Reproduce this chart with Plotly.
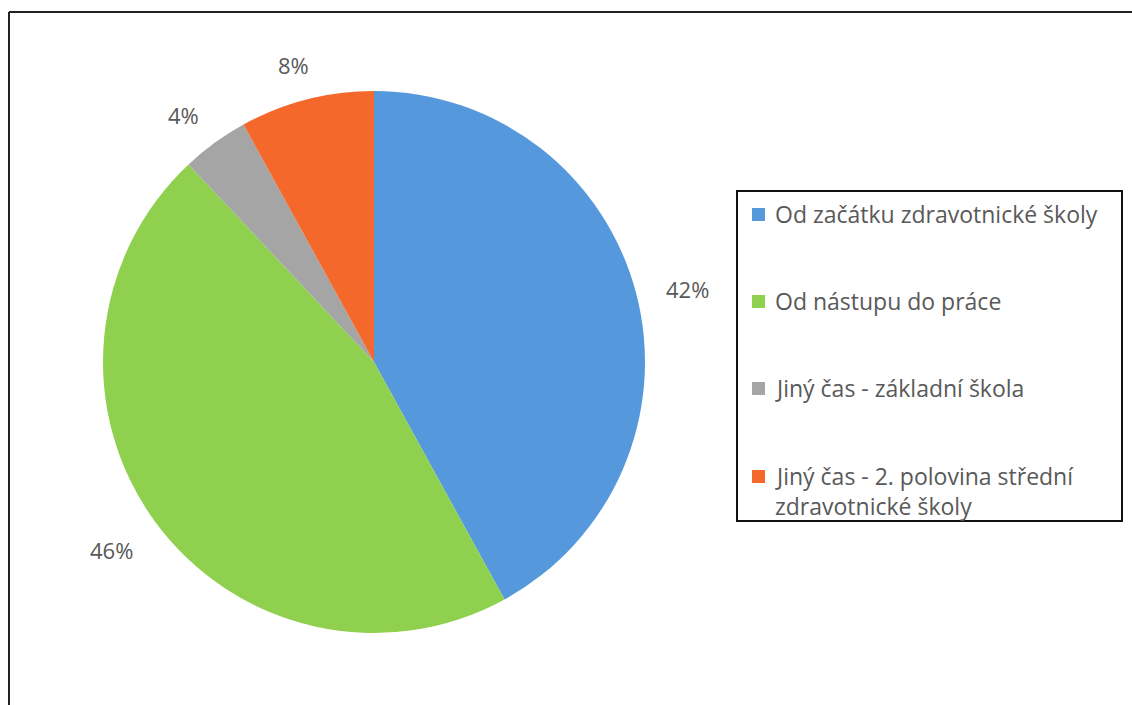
import math
import plotly.graph_objects as go

# Survey answers and their shares (%)
labels = [
    "Od začátku zdravotnické školy",
    "Od nástupu do práce",
    "Jiný čas - základní škola",
    "Jiný čas - 2. polovina střední zdravotnické školy",
]
legend_lines = [
    ["Od začátku zdravotnické školy"],
    ["Od nástupu do práce"],
    ["Jiný čas - základní škola"],
    ["Jiný čas - 2. polovina střední", "zdravotnické školy"],
]
values = [42, 46, 4, 8]
colors = ["#5599dc", "#8fd14f", "#a5a5a5", "#f4692b"]

W, H = 1132, 705
FONT = "Open Sans"
TEXT_COLOR = "#595959"

# pie geometry in pixels
cx, cy, r = 374, 362, 271
label_r = 312

fig = go.Figure(
    go.Pie(
        labels=labels,
        values=values,
        marker=dict(colors=colors, line=dict(width=0)),
        sort=False,
        direction="clockwise",
        rotation=0,
        textinfo="none",
        hoverinfo="label+percent",
        showlegend=False,
        domain=dict(x=[(cx - r) / W, (cx + r) / W], y=[1 - (cy + r) / H, 1 - (cy - r) / H]),
    )
)

annotations = []
shapes = []

# percentage labels outside the slices, at each slice's mid-angle
total = sum(values)
cum = 0
for v in values:
    mid = (cum + v / 2) / total * 2 * math.pi
    cum += v
    px = cx + (label_r + 12) * math.sin(mid)
    py = cy - label_r * math.cos(mid) + 5
    annotations.append(
        dict(
            x=px / W, y=1 - py / H, xref="paper", yref="paper",
            text=f"{round(v / total * 100)}%", showarrow=False,
            xanchor="center", yanchor="middle",
            font=dict(family=FONT, size=22, color=TEXT_COLOR),
        )
    )

# legend box
lx0, ly0, lx1, ly1 = 737, 191, 1122, 521
shapes.append(dict(type="rect", xref="paper", yref="paper",
                   x0=lx0 / W, x1=lx1 / W, y0=1 - ly1 / H, y1=1 - ly0 / H,
                   line=dict(color="#111111", width=2), fillcolor="rgba(0,0,0,0)"))

item_y = [214, 301, 388, 476]
line_gap = 30
for lines, col, yy in zip(legend_lines, colors, item_y):
    shapes.append(dict(type="rect", xref="paper", yref="paper",
                       x0=752 / W, x1=765 / W, y0=1 - (yy + 7) / H, y1=1 - (yy - 6) / H,
                       line=dict(width=0), fillcolor=col))
    for k, txt in enumerate(lines):
        annotations.append(
            dict(
                x=773 / W, y=1 - (yy + k * line_gap) / H, xref="paper", yref="paper",
                text=txt, showarrow=False, xanchor="left", yanchor="middle",
                font=dict(family=FONT, size=23, color=TEXT_COLOR),
            )
        )

# outer frame (top and left edges)
shapes.append(dict(type="line", xref="paper", yref="paper",
                   x0=9 / W, x1=1.0, y0=1 - 12 / H, y1=1 - 12 / H,
                   line=dict(color="#222222", width=2)))
shapes.append(dict(type="line", xref="paper", yref="paper",
                   x0=9 / W, x1=9 / W, y0=0, y1=1 - 12 / H,
                   line=dict(color="#222222", width=2)))

fig.update_layout(
    width=W, height=H,
    margin=dict(l=0, r=0, t=0, b=0),
    paper_bgcolor="white", plot_bgcolor="white",
    annotations=annotations, shapes=shapes,
    showlegend=False,
)

fig.write_html("out.html")
